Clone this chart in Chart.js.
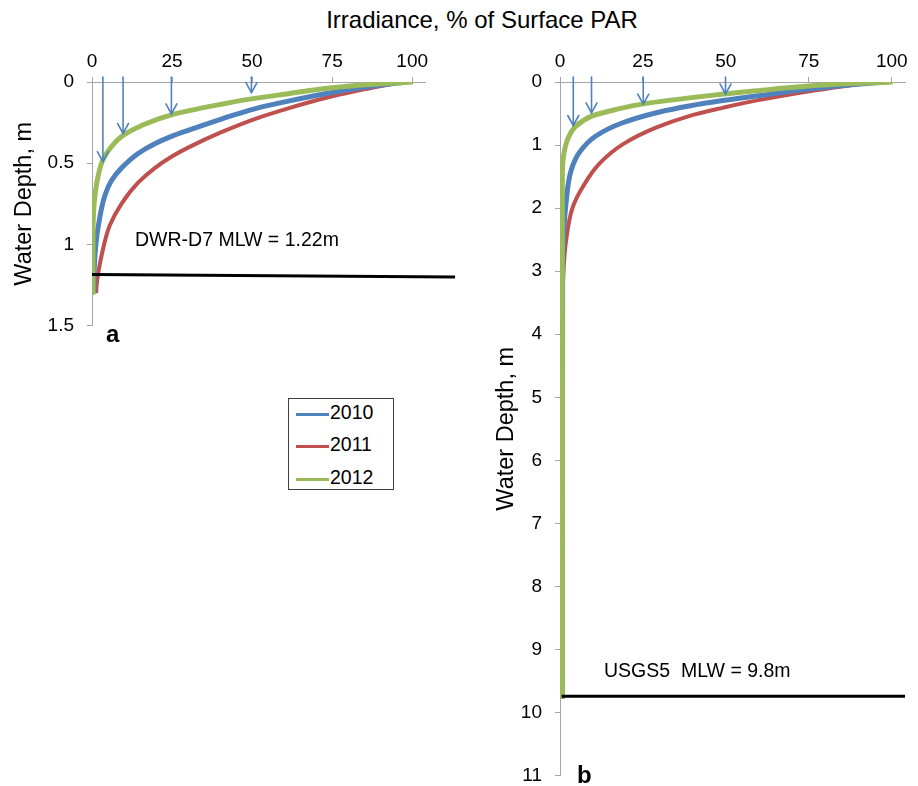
<!DOCTYPE html>
<html><head><meta charset="utf-8">
<script src="https://cdn.jsdelivr.net/npm/chart.js@4.4.0/dist/chart.umd.min.js"></script>
<style>
html,body{margin:0;padding:0;background:#fff;width:918px;height:786px;overflow:hidden;position:relative;font-family:"Liberation Sans",Arial,sans-serif;color:#000}
.abs{position:absolute;white-space:pre;line-height:1}
canvas{position:absolute}
</style></head><body>
<div class="abs" id="title" style="left:482px;top:8px;font-size:24px;transform:translateX(-50%)">Irradiance, % of Surface PAR</div>
<canvas id="ca" width="470" height="350" style="left:0;top:0"></canvas>
<canvas id="cb" width="438" height="800" style="left:480px;top:0"></canvas>
<div class="abs" style="left:135px;top:230px;font-size:19.5px">DWR-D7 MLW = 1.22m</div>
<div class="abs" style="left:604px;top:661px;font-size:19.5px">USGS5  MLW = 9.8m</div>
<div class="abs" style="left:106px;top:322px;font-size:24px;font-weight:bold">a</div>
<div class="abs" style="left:577px;top:763px;font-size:24px;font-weight:bold">b</div>
<div id="legend" style="position:absolute;left:288px;top:398px;width:106px;height:92px;border:1px solid #404040;box-sizing:border-box"></div>
<script>
// ---- categories / series ----
const seriesNames = ['2010', '2011', '2012'];
const seriesColors = ['#4F81BD', '#C0504D', '#9BBB59'];
const xTickLabels = ['0', '25', '50', '75', '100'];
const yTickLabelsA = ['0', '0.5', '1', '1.5'];
const yTickLabelsB = ['0','1','2','3','4','5','6','7','8','9','10','11'];

// Panel a (DWR-D7): irradiance % vs depth m
const a2010Irr   = [98.3, 86, 75, 61.3, 50.8, 40.4, 30, 24.8, 19.6, 14.4, 9.2, 6, 4, 2.2, 1.2, 0.7, 0.6];
const a2010Depth = [0, 0.03, 0.065, 0.118, 0.165, 0.228, 0.298, 0.335, 0.38, 0.44, 0.53, 0.61, 0.70, 0.86, 1.0, 1.15, 1.30];
const a2011Irr   = [96.8, 85, 75, 61.3, 50.8, 40.4, 30, 24.8, 19.6, 14.4, 9.2, 5.5, 3.2, 2.0, 1.4, 1.3];
const a2011Depth = [0, 0.045, 0.088, 0.162, 0.228, 0.309, 0.404, 0.46, 0.53, 0.62, 0.75, 0.885, 1.05, 1.17, 1.26, 1.30];
const a2012Irr   = [100.3, 88, 75, 61.3, 49.8, 40.4, 24.8, 15.4, 9.7, 6, 3.4, 1.9, 0.8, 0.4, 0.3, 0.3];
const a2012Depth = [0, 0.014, 0.035, 0.072, 0.104, 0.137, 0.202, 0.269, 0.329, 0.40, 0.48, 0.58, 0.72, 0.84, 1.0, 1.31];
const aMlwIrr    = [0, 113.4];
const aMlwDepth  = [1.186, 1.20];
const aArrowIrr  = [3.4, 9.7, 24.8, 49.8];
const aArrowTip  = [0.49, 0.317, 0.196, 0.065];
const aArrowStart = -0.03;

// Panel b (USGS5)
const b2010Irr   = [98.4, 86, 75, 59, 49, 38.9, 30, 18.9, 10.8, 5.8, 3.3, 1.8, 1.1, 0.8, 0.7];
const b2010Depth = [0, 0.05, 0.11, 0.222, 0.294, 0.38, 0.475, 0.646, 0.856, 1.12, 1.41, 1.93, 2.4, 3.0, 9.78];
const b2011Irr   = [95.2, 85, 74.7, 59, 49, 38.9, 28.9, 18.9, 11.8, 6.8, 3.8, 1.8, 1.0, 0.8, 0.7];
const b2011Depth = [0, 0.07, 0.15, 0.295, 0.41, 0.54, 0.725, 0.99, 1.30, 1.67, 1.99, 2.53, 3.05, 3.5, 9.78];
const b2012Irr   = [100.3, 88, 75, 59, 49.5, 38.9, 25.1, 16.9, 9.6, 4.8, 2.3, 1.0, 0.7, 0.7, 0.7];
const b2012Depth = [0, 0.025, 0.063, 0.14, 0.189, 0.252, 0.347, 0.436, 0.54, 0.70, 0.91, 1.20, 1.51, 2.5, 9.78];
const bMlwIrr    = [0.5, 104];
const bMlwDepth  = [9.74, 9.74];
const bArrowIrr  = [4.0, 9.5, 25.1, 49.9];
const bArrowTip  = [0.69, 0.49, 0.35, 0.19];
const bArrowStart = -0.08;

// ---- legend (HTML) ----
const legendEl = document.getElementById('legend');
const rowTops = [3.8, 35.5, 68.8];
seriesNames.forEach((n, i) => {
  const row = document.createElement('div');
  row.style.cssText = 'position:absolute;left:0;top:' + rowTops[i] + 'px;height:20px;width:100px';
  const sw = document.createElement('div');
  sw.style.cssText = 'position:absolute;left:7px;top:10px;width:33px;height:3px;background:' + seriesColors[i];
  const tx = document.createElement('div');
  tx.className = 'abs';
  tx.style.cssText += 'left:41px;top:0;font-size:19.5px';
  tx.textContent = n;
  row.appendChild(sw); row.appendChild(tx);
  legendEl.appendChild(row);
});

Chart.defaults.font.family = '"Liberation Sans", Arial, sans-serif';
Chart.defaults.color = '#000';

const arrowPlugin = {
  id: 'arrows',
  afterDatasetsDraw(chart, args, opts) {
    const {ctx, scales: {x, y}} = chart;
    ctx.save();
    ctx.strokeStyle = opts.color;
    ctx.lineWidth = 1.6;
    ctx.lineCap = 'round';
    opts.xs.forEach((v, i) => {
      const px = x.getPixelForValue(v);
      const y0 = y.getPixelForValue(opts.start);
      const y1 = y.getPixelForValue(opts.tips[i]);
      ctx.beginPath(); ctx.moveTo(px, y0); ctx.lineTo(px, y1); ctx.stroke();
      ctx.beginPath(); ctx.moveTo(px - 5.5, y1 - 10); ctx.lineTo(px, y1); ctx.lineTo(px + 5.5, y1 - 10); ctx.stroke();
    });
    ctx.restore();
  }
};

function pts(irr, depth) { return irr.map((v, i) => ({x: v, y: depth[i]})); }

function curve(label, irr, depth, color, width, order) {
  return {label, data: pts(irr, depth), borderColor: color, backgroundColor: color, borderWidth: width,
    pointRadius: 0, cubicInterpolationMode: 'monotone', order, fill: false};
}

function makeChart(id, p) {
  return new Chart(document.getElementById(id), {
    type: 'line',
    data: {datasets: [
      curve(seriesNames[0], p.s2010[0], p.s2010[1], seriesColors[0], 5, 2),
      curve(seriesNames[1], p.s2011[0], p.s2011[1], seriesColors[1], 4, 3),
      curve(seriesNames[2], p.s2012[0], p.s2012[1], seriesColors[2], 5, 1),
      {label: 'MLW', data: pts(p.mlw[0], p.mlw[1]), borderColor: '#000', borderWidth: 3, pointRadius: 0, tension: 0, order: 0, clip: false}
    ]},
    options: {
      responsive: false, animation: false, devicePixelRatio: 1,
      indexAxis: 'y',
      layout: {padding: {left: 0, top: 0, right: p.padRight, bottom: p.padBottom}},
      plugins: {legend: {display: false}, tooltip: {enabled: false},
        arrows: {color: '#4F81BD', xs: p.arrowIrr, tips: p.arrowTip, start: p.arrowStart}},
      scales: {
        x: {type: 'linear', position: 'top', min: 0, max: 104,
          ticks: {stepSize: 25, includeBounds: false, padding: 4, font: {size: 19},
            callback: v => xTickLabels[Math.round(v / 25)]},
          grid: {drawOnChartArea: false, drawTicks: true, tickLength: 5, color: '#a6a6a6'},
          border: {color: '#a6a6a6', width: 1},
          afterFit: s => { s.height = 82; }},
        y: {type: 'linear', reverse: true, min: 0, max: p.yMax,
          ticks: {stepSize: p.yStep, padding: 13, font: {size: 19},
            callback: v => p.yLabels[Math.round(v / p.yStep)]},
          grid: {drawOnChartArea: false, drawTicks: true, tickLength: 5, color: '#a6a6a6'},
          border: {color: '#a6a6a6', width: 1},
          title: {display: true, text: 'Water Depth, m', font: {size: 23.5}, padding: {top: p.titlePad, bottom: 0}},
          afterFit: s => { s.width = p.yWidth; }}
      }
    },
    plugins: [arrowPlugin]
  });
}

makeChart('ca', {
  s2010: [a2010Irr, a2010Depth], s2011: [a2011Irr, a2011Depth], s2012: [a2012Irr, a2012Depth],
  mlw: [aMlwIrr, aMlwDepth], arrowIrr: aArrowIrr, arrowTip: aArrowTip, arrowStart: aArrowStart,
  yMax: 1.5, yStep: 0.5, yLabels: yTickLabelsA, yWidth: 92, titlePad: 10, padRight: 45, padBottom: 20
});
makeChart('cb', {
  s2010: [b2010Irr, b2010Depth], s2011: [b2011Irr, b2011Depth], s2012: [b2012Irr, b2012Depth],
  mlw: [bMlwIrr, bMlwDepth], arrowIrr: bArrowIrr, arrowTip: bArrowTip, arrowStart: bArrowStart,
  yMax: 11, yStep: 1, yLabels: yTickLabelsB, yWidth: 80, titlePad: 12, padRight: 13, padBottom: 20
});
</script>
</body></html>
